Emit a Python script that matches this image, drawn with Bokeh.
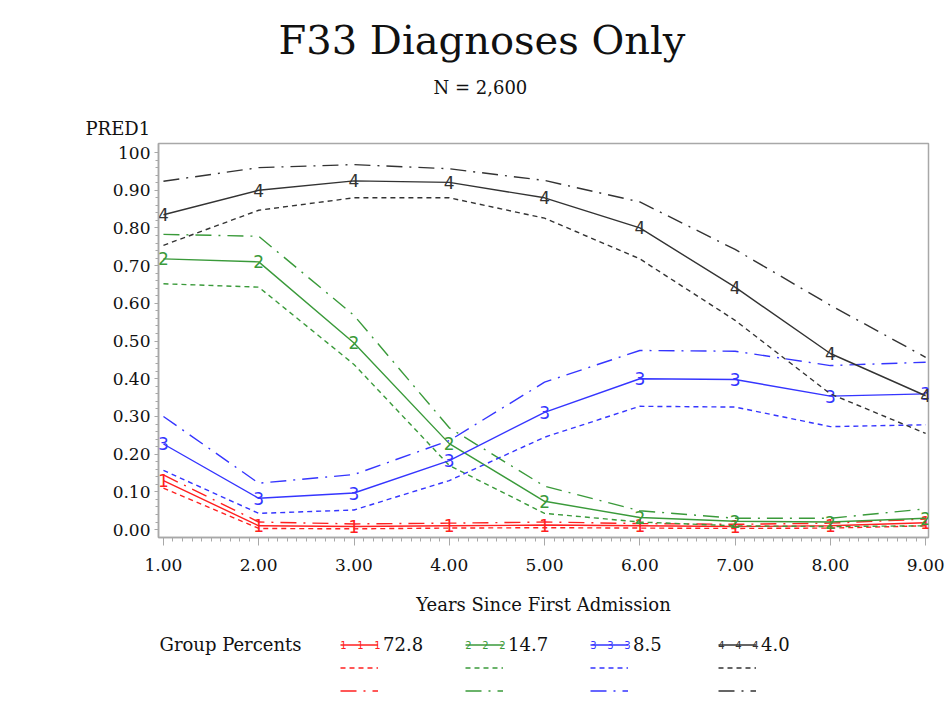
import numpy as np
from bokeh.plotting import figure
from bokeh.layouts import column
from bokeh.models import FixedTicker, Legend, LegendItem, Range1d, Title, Label
from bokeh.core.properties import value
from bokeh.embed import file_html
from bokeh.resources import INLINE

# ---------------- data ----------------
years = [1, 2, 3, 4, 5, 6, 7, 8, 9]
groups = ["1", "2", "3", "4"]
group_percents = ["72.8", "14.7", "8.5", "4.0"]

g1_pred = [0.130, 0.010, 0.008, 0.010, 0.012, 0.010, 0.008, 0.010, 0.018]
g1_low = [0.110, 0.003, 0.002, 0.004, 0.005, 0.004, 0.003, 0.004, 0.010]
g1_high = [0.145, 0.020, 0.015, 0.017, 0.020, 0.016, 0.014, 0.017, 0.028]

g2_pred = [0.718, 0.710, 0.495, 0.228, 0.075, 0.032, 0.022, 0.020, 0.030]
g2_low = [0.652, 0.643, 0.438, 0.170, 0.043, 0.020, 0.010, 0.008, 0.010]
g2_high = [0.783, 0.778, 0.568, 0.270, 0.115, 0.050, 0.030, 0.030, 0.055]

g3_pred = [0.227, 0.083, 0.097, 0.183, 0.311, 0.400, 0.398, 0.354, 0.360]
g3_low = [0.157, 0.043, 0.052, 0.130, 0.245, 0.327, 0.325, 0.273, 0.278]
g3_high = [0.300, 0.123, 0.146, 0.236, 0.391, 0.475, 0.473, 0.435, 0.444]

g4_pred = [0.835, 0.900, 0.925, 0.921, 0.880, 0.800, 0.643, 0.467, 0.355]
g4_low = [0.754, 0.847, 0.880, 0.880, 0.826, 0.718, 0.555, 0.360, 0.255]
g4_high = [0.924, 0.960, 0.968, 0.957, 0.926, 0.869, 0.743, 0.595, 0.457]

y_ticks = [0.0, 0.1, 0.2, 0.3, 0.4, 0.5, 0.6, 0.7, 0.8, 0.9, 1.0]
y_tick_labels = ["0.00", "0.10", "0.20", "0.30", "0.40", "0.50",
                 "0.60", "0.70", "0.80", "0.90", "100"]
x_ticks = [1, 2, 3, 4, 5, 6, 7, 8, 9]
x_tick_labels = ["1.00", "2.00", "3.00", "4.00", "5.00", "6.00", "7.00", "8.00", "9.00"]

title_text = "F33 Diagnoses Only"
subtitle_text = "N = 2,600"
y_label = "PRED1"
x_label = "Years Since First Admission"
legend_title = "Group Percents"

colors = ["#ff2020", "#3a9a3a", "#3535ff", "#333333"]
SERIF = "DejaVu Serif"
TXT = "#111111"
DASH = "5 4"
DASHDOT = "16 7 2 7"

preds = [g1_pred, g2_pred, g3_pred, g4_pred]
lows = [g1_low, g2_low, g3_low, g4_low]
highs = [g1_high, g2_high, g3_high, g4_high]

# ---------------- main figure ----------------
p = figure(width=946, height=625, output_backend="svg", toolbar_location=None,
           x_range=Range1d(0.948, 9.03), y_range=Range1d(-0.021, 1.024),
           min_border_left=158, min_border_right=18, min_border_top=143,
           min_border_bottom=88)
p.grid.visible = False
p.outline_line_color = "#a8a8a8"
p.outline_line_width = 1.5
p.background_fill_color = "white"
p.border_fill_color = "white"

p.yaxis.ticker = FixedTicker(ticks=y_ticks,
                             minor_ticks=list(np.round(np.arange(0, 1.0001, 0.02), 3)))
p.yaxis.major_label_overrides = dict(zip(y_ticks, y_tick_labels))
p.xaxis.ticker = FixedTicker(ticks=x_ticks,
                             minor_ticks=list(np.round(np.arange(1, 9.0001, 0.1), 3)))
p.xaxis.major_label_overrides = dict(zip(x_ticks, x_tick_labels))
for ax in (p.xaxis, p.yaxis):
    ax.axis_line_color = "#a8a8a8"
    ax.axis_line_width = 1.5
    ax.major_tick_line_color = "#a8a8a8"
    ax.minor_tick_line_color = "#a8a8a8"
    ax.major_tick_in = 0
    ax.minor_tick_in = 0
    ax.major_label_text_font = SERIF
    ax.major_label_text_font_size = "17px"
    ax.major_label_text_color = TXT
p.yaxis.major_tick_out = 4
p.yaxis.minor_tick_out = 3
p.yaxis.major_label_standoff = 4
p.xaxis.major_tick_out = 8
p.xaxis.minor_tick_out = 4
p.xaxis.major_label_standoff = 13
p.xaxis.axis_label = x_label
p.xaxis.axis_label_text_font = SERIF
p.xaxis.axis_label_text_font_size = "18px"
p.xaxis.axis_label_text_font_style = "normal"
p.xaxis.axis_label_text_color = TXT
p.xaxis.axis_label_standoff = 20

for i in range(4):
    c = colors[i]
    p.line(years, preds[i], line_color=c, line_width=1.4)
    p.line(years, lows[i], line_color=c, line_width=1.4, line_dash=DASH)
    p.line(years, highs[i], line_color=c, line_width=1.4, line_dash=DASHDOT)
    p.text(years, preds[i], text=[groups[i]] * len(years), text_color=c,
           text_font=value("DejaVu Sans"), text_font_size="17px",
           text_align="center", text_baseline="middle")

# titles (inner-most first)
p.add_layout(Title(text=y_label, align="left", offset=-73, standoff=9,
                   text_font=SERIF, text_font_size="18px", text_font_style="normal",
                   text_color=TXT), "above")
p.add_layout(Title(text=subtitle_text, align="left", offset=275, standoff=28,
                   text_font=SERIF, text_font_size="18px", text_font_style="normal",
                   text_color=TXT), "above")
p.add_layout(Title(text=title_text, align="left", offset=120, standoff=-4,
                   text_font=SERIF, text_font_size="40px", text_font_style="normal",
                   text_color=TXT), "above")

# ---------------- legend strip (frame aligned with the main frame) ----------------
q = figure(width=946, height=92, output_backend="svg", toolbar_location=None,
           x_range=Range1d(0, 1), y_range=Range1d(10, 11),
           x_axis_location=None, y_axis_location=None,
           min_border_left=0, min_border_right=0, min_border_top=0, min_border_bottom=0)
q.grid.visible = False
q.outline_line_color = None
q.background_fill_color = "white"
q.border_fill_color = "white"

legend_x = [182, 307, 432, 560]
for i in range(4):
    c = colors[i]
    # same series, outside this strip's range: only their legend samples show
    r_s = q.line(years, preds[i], line_color=c, line_width=1.4)
    r_d = q.line(years, lows[i], line_color=c, line_width=1.4, line_dash=DASH)
    r_dd = q.line(years, highs[i], line_color=c, line_width=1.4, line_dash=DASHDOT)
    lg = Legend(items=[LegendItem(label=group_percents[i], renderers=[r_s]),
                       LegendItem(label="", renderers=[r_d]),
                       LegendItem(label="", renderers=[r_dd])],
                location=(legend_x[i], 16), orientation="vertical",
                padding=0, margin=0, spacing=2, glyph_width=38, glyph_height=21,
                label_height=21, label_standoff=5,
                label_text_font=SERIF, label_text_font_size="18px",
                label_text_color=TXT, border_line_color=None,
                background_fill_alpha=0)
    q.add_layout(lg, "center")
    for k in range(3):
        q.add_layout(Label(x=legend_x[i] + 3 + 17 * k, y=73, x_units="screen",
                           y_units="screen", text=groups[i], text_color=c,
                           text_font="DejaVu Sans", text_font_size="10px",
                           text_align="center", text_baseline="middle"))

q.add_layout(Label(x=1, y=73, x_units="screen", y_units="screen", text=legend_title,
                   text_font=SERIF, text_font_size="18px", text_color=TXT,
                   text_align="left", text_baseline="middle"))

layout = column(p, q, spacing=0)
open("out.html", "w").write(file_html(layout, INLINE))
